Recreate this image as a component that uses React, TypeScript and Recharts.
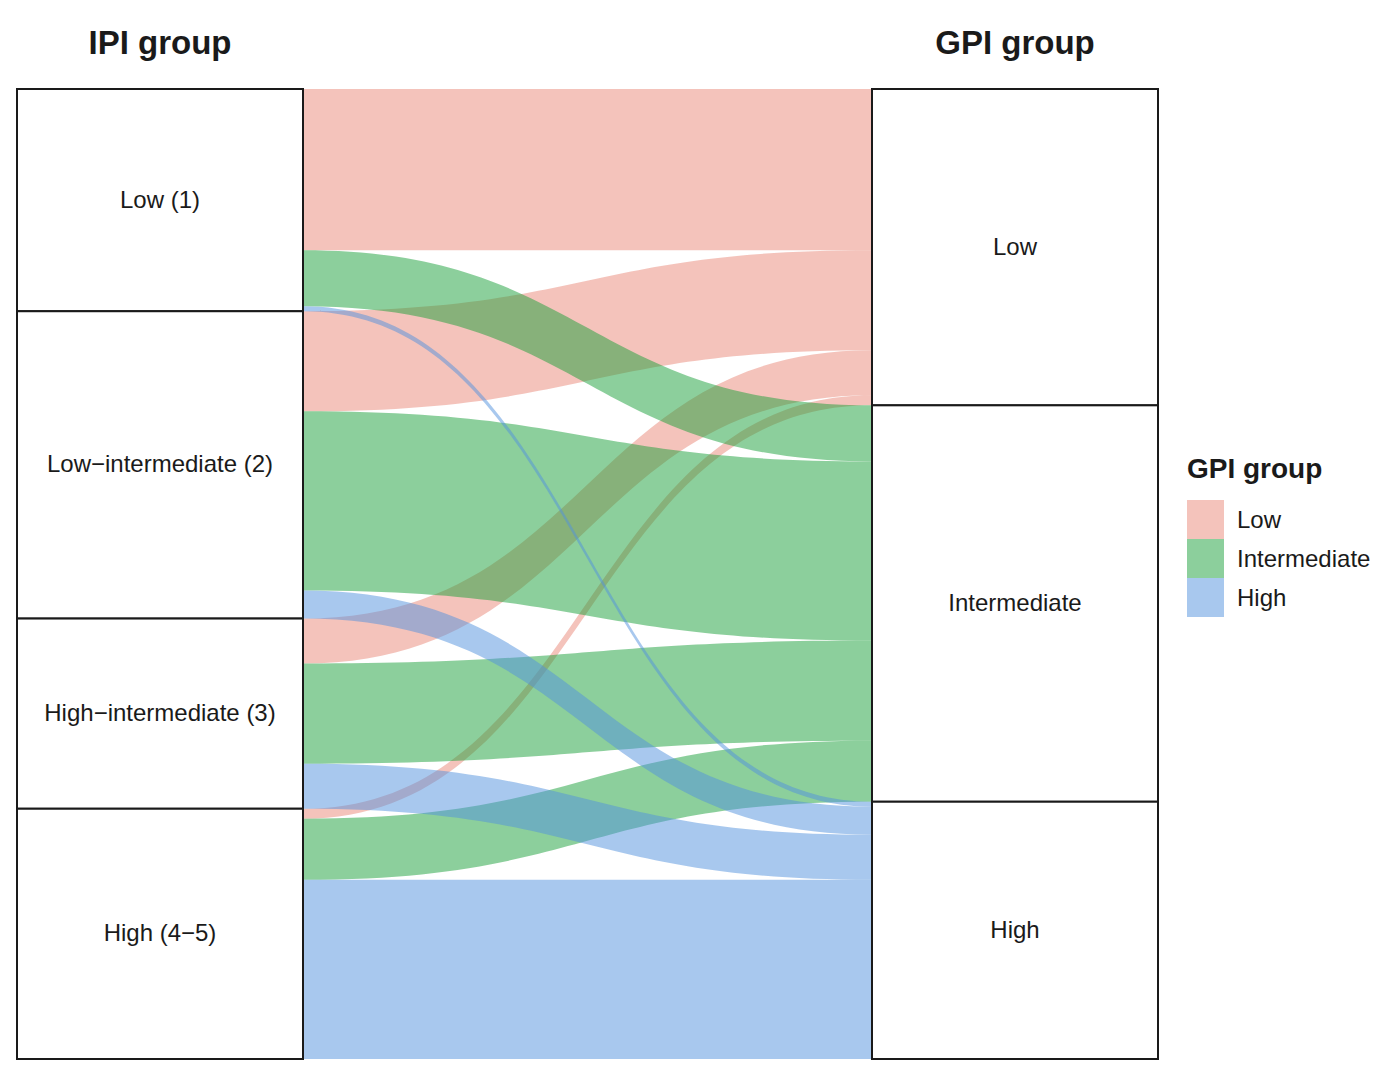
import React from 'react';
import { Sankey } from 'recharts';

// IPI groups (left axis) and GPI groups (right axis)
const ipiGroups = ['Low (1)', 'Low−intermediate (2)', 'High−intermediate (3)', 'High (4−5)'];
const gpiGroups = ['Low', 'Intermediate', 'High'];

// patients going from each IPI group to each GPI group
const toLow = [161, 100, 45, 10];
const toIntermediate = [56, 179, 100, 61];
const toHigh = [5, 28, 45, 179];

const gpiColors = ['rgb(233,135,119)', 'rgb(25,159,57)', 'rgb(81,145,221)'];
const ALPHA = 0.5;
const FONT = '"Liberation Sans", Arial, Helvetica, sans-serif';

const flows = [toLow, toIntermediate, toHigh];

const nodes = [...ipiGroups, ...gpiGroups].map((name) => ({ name }));
// links grouped by GPI group so that later groups are painted on top
const links = gpiGroups.flatMap((_, j) =>
  ipiGroups.map((_, i) => ({
    source: i,
    target: ipiGroups.length + j,
    value: flows[j][i],
    gpi: j,
  }))
);
const data = { nodes, links };

function Ribbon(props: any) {
  const { sourceX, targetX, sourceY, targetY, sourceControlX, targetControlX, linkWidth, payload } = props;
  const h = linkWidth / 2;
  const d = `M${sourceX},${sourceY - h} C${sourceControlX},${sourceY - h} ${targetControlX},${targetY - h} ${targetX},${targetY - h}
    L${targetX},${targetY + h} C${targetControlX},${targetY + h} ${sourceControlX},${sourceY + h} ${sourceX},${sourceY + h} Z`;
  return <path d={d} fill={gpiColors[payload.gpi]} fillOpacity={ALPHA} stroke="none" />;
}

function NodeBox(props: any) {
  const { x, y, width, height, payload } = props;
  return (
    <g>
      <rect x={x} y={y} width={width} height={height} fill="#fff" stroke="#1a1a1a" strokeWidth={2} />
      <text
        x={x + width / 2}
        y={y + height / 2 - 1}
        textAnchor="middle"
        dominantBaseline="central"
        fontSize={24}
        fontFamily={FONT}
        fill="#1a1a1a"
      >
        {payload.name}
      </text>
    </g>
  );
}

export default function App() {
  return (
    <div style={{ position: 'absolute', left: 0, top: 0, width: 1387, height: 1076, background: '#fff', fontFamily: FONT }}>
      <Sankey
        width={1387}
        height={1076}
        data={data}
        nodeWidth={286}
        nodePadding={0}
        iterations={0}
        linkCurvature={0.5}
        margin={{ top: 89, left: 17, right: 229, bottom: 17 }}
        node={(p: any) => <NodeBox {...p} />}
        link={(p: any) => <Ribbon {...p} />}
      />
      <div style={{ position: 'absolute', left: 0, width: 320, top: 24, textAlign: 'center', fontSize: 33, fontWeight: 'bold', color: '#1a1a1a' }}>
        IPI group
      </div>
      <div style={{ position: 'absolute', left: 855, width: 320, top: 24, textAlign: 'center', fontSize: 33, fontWeight: 'bold', color: '#1a1a1a' }}>
        GPI group
      </div>
      <div style={{ position: 'absolute', left: 1187, top: 452 }}>
        <div style={{ fontSize: 28, fontWeight: 'bold', color: '#1a1a1a', lineHeight: '34px' }}>GPI group</div>
        <div style={{ marginTop: 14 }}>
          {gpiGroups.map((g, j) => (
            <div key={g} style={{ display: 'flex', alignItems: 'center', height: 39 }}>
              <div style={{ width: 37, height: 39, background: gpiColors[j], opacity: ALPHA }} />
              <span style={{ marginLeft: 13, fontSize: 24, color: '#1a1a1a' }}>{g}</span>
            </div>
          ))}
        </div>
      </div>
    </div>
  );
}
